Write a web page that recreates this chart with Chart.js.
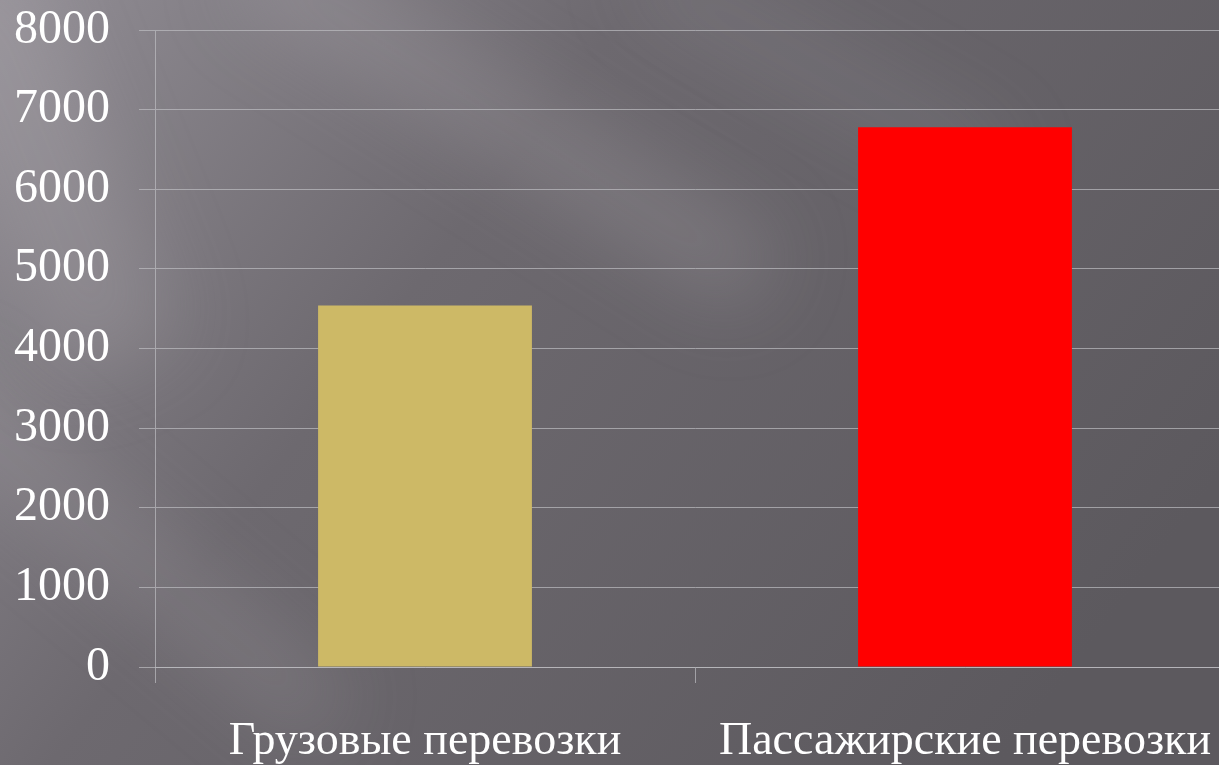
<!DOCTYPE html>
<html lang="ru">
  <head>
    <meta charset="UTF-8" />
    <title>перевозки</title>
    <script src="https://cdn.jsdelivr.net/npm/chart.js"></script>
    <style>
      body {
        margin: 0;
        width: 1219px;
        height: 765px;
        overflow: hidden;
        background: #636065;
      }
    </style>
  </head>
  <body>
    <canvas id="chart" width="1300" height="765"></canvas>
    <script>
      const categories = ["Грузовые перевозки", "Пассажирские перевозки"];
      const values = [4540, 6780];
      const barColors = ["#cdb966", "#ff0000"];
      const yTicks = [0, 1000, 2000, 3000, 4000, 5000, 6000, 7000, 8000];

      // slide-like background: grey gradient with soft diagonal streaks
      const backdrop = {
        id: "backdrop",
        beforeDraw(chart) {
          const ctx = chart.ctx;
          const w = chart.width, h = chart.height;
          ctx.save();
          let g = ctx.createLinearGradient(0, 0, 1000, 765);
          g.addColorStop(0, "#918d94");
          g.addColorStop(0.4, "#6d696f");
          g.addColorStop(1, "#5c595e");
          ctx.fillStyle = g;
          ctx.fillRect(0, 0, w, h);

          const streak = (x0, y0, x1, y1, width, alpha) => {
            ctx.save();
            ctx.globalAlpha = alpha;
            ctx.strokeStyle = "#bdb9c0";
            ctx.lineWidth = width;
            ctx.filter = "blur(40px)";
            ctx.beginPath();
            ctx.moveTo(x0, y0);
            ctx.lineTo(x1, y1);
            ctx.stroke();
            ctx.restore();
          };
          streak(-80, 380, 330, 720, 70, 0.2);
          streak(250, -40, 760, 280, 80, 0.22);
          streak(640, -30, 1000, 170, 50, 0.16);
          streak(-40, -40, 120, 360, 130, 0.22);
          ctx.restore();
        },
      };

      new Chart(document.getElementById("chart"), {
        type: "bar",
        data: {
          labels: categories,
          datasets: [
            {
              data: values,
              backgroundColor: barColors,
              borderWidth: 0,
              barPercentage: 0.396,
              categoryPercentage: 1,
            },
          ],
        },
        options: {
          responsive: false,
          animation: false,
          layout: { padding: { top: 30, right: 65, left: 0, bottom: 0 } },
          plugins: { legend: { display: false }, tooltip: { enabled: false } },
          scales: {
            y: {
              min: 0,
              max: 8000,
              afterFit(scale) {
                scale.width = 155;
                scale.paddingTop = 0;
                scale.paddingBottom = 0;
              },
              afterBuildTicks(scale) {
                scale.ticks = yTicks.map((v) => ({ value: v }));
              },
              grid: {
                color: "rgba(190,190,194,0.7)",
                lineWidth: 1,
                tickLength: 16,
              },
              border: { color: "rgba(190,190,194,0.7)" },
              ticks: {
                color: "#ffffff",
                padding: 29,
                font: { family: "Liberation Serif", size: 48 },
                callback: (v) => String(v),
              },
            },
            x: {
              afterFit(scale) {
                scale.height = 98;
                scale.paddingLeft = 0;
                scale.paddingRight = 0;
              },
              grid: {
                drawOnChartArea: false,
                color: "rgba(190,190,194,0.7)",
                tickLength: 16,
              },
              border: { color: "rgba(190,190,194,0.7)" },
              ticks: {
                color: "#ffffff",
                padding: 31,
                maxRotation: 0,
                font: { family: "Liberation Serif", size: 46 },
              },
            },
          },
        },
        plugins: [backdrop],
      });
    </script>
  </body>
</html>
